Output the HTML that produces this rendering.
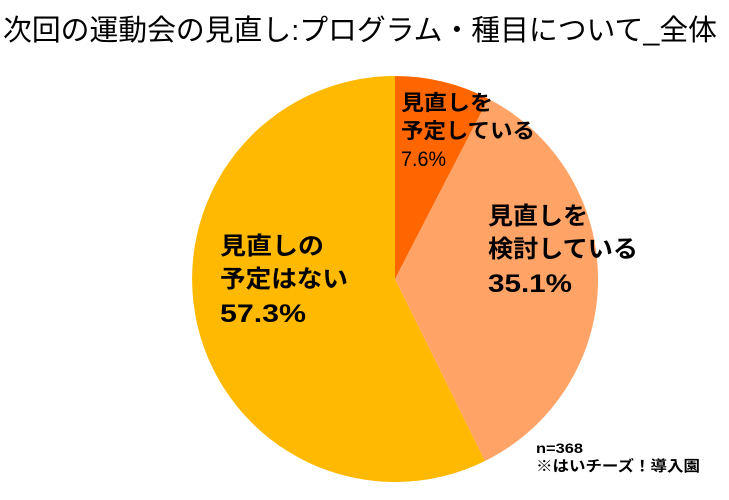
<!DOCTYPE html>
<html><head><meta charset="utf-8"><style>
html,body{margin:0;padding:0;background:#fff;}
svg text{font-family:"Liberation Sans","Noto Sans CJK JP",sans-serif;}
</style></head><body>
<svg width="729" height="495" viewBox="0 0 729 495" xmlns="http://www.w3.org/2000/svg">
<rect width="729" height="495" fill="#fff"/>
<text x="3" y="40" font-size="29" textLength="714" lengthAdjust="spacingAndGlyphs" fill="#000">次回の運動会の見直し:プログラム・種目について_全体</text>
<path d="M395,279 L395,76 A203,203 0 0 1 488.3,98.7 Z" fill="#FF6600"/>
<path d="M395,279 L488.3,98.7 A203,203 0 0 1 485,461 Z" fill="#FFA366"/>
<path d="M395,279 L485,461 A203,203 0 1 1 395,76 Z" fill="#FFB900"/>
<g font-weight="bold" fill="#000" lengthAdjust="spacingAndGlyphs">
<text x="401" y="110" font-size="21" textLength="92" lengthAdjust="spacingAndGlyphs">見直しを</text>
<text x="401" y="138" font-size="21" textLength="134" lengthAdjust="spacingAndGlyphs">予定している</text>
<text x="401" y="166" font-size="21" font-weight="normal" textLength="45" lengthAdjust="spacingAndGlyphs">7.6%</text>
<text x="488" y="224" font-size="24" textLength="100" lengthAdjust="spacingAndGlyphs">見直しを</text>
<text x="488" y="257" font-size="24" textLength="150" lengthAdjust="spacingAndGlyphs">検討している</text>
<text x="488" y="292" font-size="25" textLength="84" lengthAdjust="spacingAndGlyphs">35.1%</text>
<text x="220" y="254" font-size="24" textLength="104" lengthAdjust="spacingAndGlyphs">見直しの</text>
<text x="220" y="287" font-size="24" textLength="128" lengthAdjust="spacingAndGlyphs">予定はない</text>
<text x="220" y="322" font-size="25" textLength="86" lengthAdjust="spacingAndGlyphs">57.3%</text>
<text x="536" y="453" font-size="14" textLength="47" lengthAdjust="spacingAndGlyphs">n=368</text>
<text x="536" y="471" font-size="15" textLength="164" lengthAdjust="spacingAndGlyphs">※はいチーズ！導入園</text>
</g>
</svg>
</body></html>
